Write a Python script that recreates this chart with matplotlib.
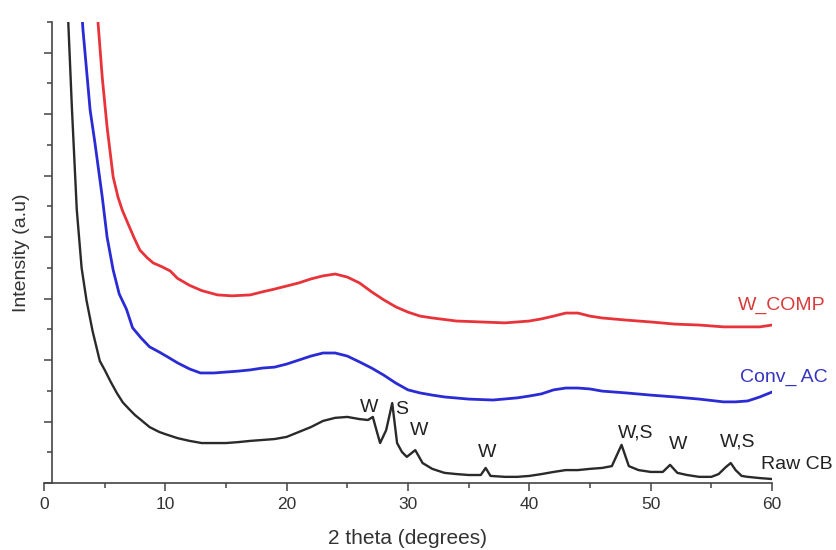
import matplotlib
matplotlib.use("Agg")
import matplotlib.pyplot as plt
from matplotlib.ticker import MultipleLocator

plt.rcParams['font.family'] = ['Liberation Sans', 'DejaVu Sans']

# ---- data ----
raw_x = [1.9, 2.0, 2.3, 2.7, 3.1, 3.5, 4.0, 4.6, 5.0, 5.5, 6.0, 6.5, 7.0, 7.5, 8.0, 8.7, 9.5, 10, 11, 12, 13,
         14, 15, 16, 17, 18, 19, 20, 21, 22, 23, 24, 25, 26, 26.7, 27.1, 27.4, 27.7, 28.2, 28.7, 29.1,
         29.5, 29.9, 30.6, 31.2, 32, 33, 34, 35, 36, 36.4, 36.8, 38, 39, 40, 41, 42, 43, 44, 45, 46,
         46.8, 47.6, 48.2, 49, 50, 51, 51.6, 52.2, 53, 54, 55, 55.6, 56.2, 56.6, 57.0, 57.5, 58, 59, 60]
raw_y = [16.0, 15.0, 12.2, 8.9, 7.0, 5.95, 4.95, 3.97, 3.68, 3.29, 2.93, 2.62, 2.41, 2.21, 2.05, 1.82, 1.66, 1.59, 1.46, 1.37, 1.30,
         1.30, 1.30, 1.33, 1.37, 1.40, 1.43, 1.50, 1.66, 1.82, 2.02, 2.12, 2.15, 2.08, 2.05, 2.15, 1.72, 1.30, 1.72, 2.60, 1.30,
         1.01, 0.85, 1.07, 0.65, 0.46, 0.33, 0.29, 0.26, 0.26, 0.49, 0.23, 0.20, 0.20, 0.23, 0.29, 0.36, 0.42, 0.42, 0.46, 0.49,
         0.55, 1.24, 0.55, 0.42, 0.36, 0.36, 0.59, 0.33, 0.26, 0.20, 0.20, 0.29, 0.52, 0.65, 0.42, 0.23, 0.20, 0.16, 0.13]

conv_x = [3.1, 3.2, 3.8, 4.2, 4.8, 5.2, 5.7, 6.2, 6.8, 7.3, 8.0, 8.7, 9.5, 10.2, 11, 12, 12.9, 14, 15, 16,
          17, 18, 19, 20, 21, 22, 23, 24, 25, 26, 27, 28, 29, 30, 31, 32, 33, 35, 37, 39,
          40, 41, 42, 43, 44, 45, 46, 48, 50, 52, 54, 56, 57, 58, 59, 60]
conv_y = [15.5, 14.8, 12.14, 11.06, 9.31, 8.0, 6.93, 6.15, 5.65, 5.05, 4.72, 4.43, 4.26, 4.10, 3.91, 3.71, 3.58, 3.58, 3.61, 3.64,
          3.68, 3.74, 3.77, 3.87, 4.00, 4.13, 4.23, 4.23, 4.13, 3.94, 3.74, 3.51, 3.25, 3.03, 2.93, 2.86, 2.80, 2.73, 2.70, 2.77,
          2.83, 2.90, 3.03, 3.09, 3.09, 3.06, 2.99, 2.93, 2.86, 2.80, 2.73, 2.64, 2.64, 2.67, 2.80, 2.96]

wcomp_x = [4.35, 4.45, 4.8, 5.2, 5.7, 6.1, 6.45, 6.9, 7.4, 7.9, 8.5, 9.0, 9.7, 10.4, 11, 12, 13, 14.3, 15.5, 17, 18, 19,
           20, 21, 22, 23, 24, 25, 26, 27, 28, 29, 30, 31, 32, 34, 36, 38, 40, 41, 42, 43,
           44, 45, 46, 48, 50, 52, 54, 56, 58, 59, 60]
wcomp_y = [15.6, 15.0, 13.2, 11.58, 9.96, 9.3, 8.88, 8.46, 8.0, 7.58, 7.33, 7.16, 7.04, 6.90, 6.66, 6.43, 6.26, 6.12, 6.09, 6.12, 6.22, 6.31,
           6.41, 6.51, 6.64, 6.74, 6.80, 6.70, 6.51, 6.22, 5.96, 5.73, 5.56, 5.43, 5.37, 5.27, 5.24, 5.21, 5.27, 5.34, 5.43, 5.53,
           5.53, 5.43, 5.37, 5.30, 5.24, 5.17, 5.14, 5.08, 5.08, 5.08, 5.14]

series_names = ["W_COMP", "Conv_ AC", "Raw CB"]
peak_labels = ["W", "S", "W", "W", "W,S", "W", "W,S"]
peak_pos = [26.8, 29.45, 30.9, 36.5, 48.8, 52.3, 57.2]
peak_lift = [2.47, 2.38, 1.72, 0.98, 1.63, 1.24, 1.33]

# ---- figure ----
fig = plt.figure(figsize=(8.36, 5.5), dpi=100)
W, H = 836, 550
ax = fig.add_axes([44 / W, (550 - 483) / H, (772 - 44) / W, (483 - 22) / H])

c_red = '#e8333a'
c_blue = '#2b2bd6'
c_black = '#2a2a2a'

ax.plot(wcomp_x, wcomp_y, color=c_red, lw=2.0, solid_joinstyle='round')
ax.plot(conv_x, conv_y, color=c_blue, lw=2.0, solid_joinstyle='round')
ax.plot(raw_x, raw_y, color=c_black, lw=1.7, solid_joinstyle='round')

ax.set_xlim(0, 60)
ax.set_ylim(0, 15)

for s in ['top', 'right']:
    ax.spines[s].set_visible(False)
ax.spines['left'].set_position(('data', 0.7))
axcol = '#444444'
ax.spines['left'].set_color(axcol)
ax.spines['bottom'].set_color(axcol)
ax.spines['left'].set_linewidth(1.2)
ax.spines['bottom'].set_linewidth(1.2)

ax.xaxis.set_major_locator(MultipleLocator(10))
ax.xaxis.set_minor_locator(MultipleLocator(5))
ax.yaxis.set_major_locator(MultipleLocator(2))
ax.yaxis.set_minor_locator(MultipleLocator(1))
ax.tick_params(axis='x', which='major', direction='out', length=6, width=1.1, colors=axcol,
               labelsize=12.5, labelcolor='#333333', pad=4)
ax.tick_params(axis='x', which='minor', direction='out', length=3.5, width=1.1, colors=axcol)
ax.tick_params(axis='y', which='major', direction='out', length=6, width=1.1, colors=axcol, labelleft=False)
ax.tick_params(axis='y', which='minor', direction='out', length=3.5, width=1.1, colors=axcol)

ax.set_xlabel("2 theta (degrees)", fontsize=15, color='#333333', labelpad=12)
fig.text(22 / W, 1 - 253 / H, "Intensity (a.u)", rotation=90, fontsize=14,
         color='#333333', ha='center', va='center')

ax.text(57.2, 5.79, series_names[0], color='#d93a3a', fontsize=14, ha='left', va='center', clip_on=False)
ax.text(57.4, 3.42, series_names[1], color='#3535c0', fontsize=14, ha='left', va='center', clip_on=False)
ax.text(59.1, 0.59, series_names[2], color='#222222', fontsize=14, ha='left', va='center', clip_on=False)

for lab, px, py in zip(peak_labels, peak_pos, peak_lift):
    ax.text(px, py, lab, fontsize=14, color='#222222', ha='center', va='center')

fig.savefig("out.png", dpi=100)
